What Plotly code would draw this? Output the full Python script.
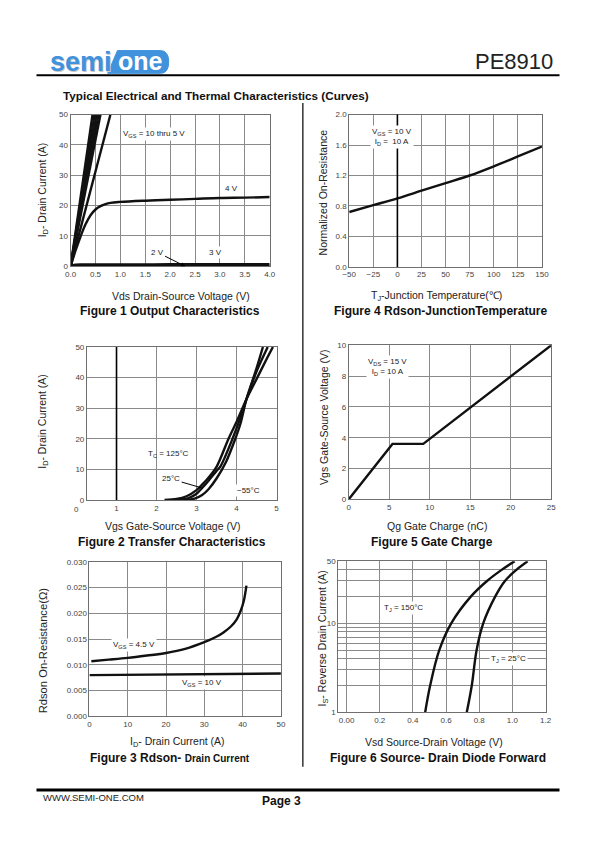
import plotly.graph_objects as go

# The page body keeps its default 8px margin, so the figure is sized to fit inside it
PAGE_W, PAGE_H = 595, 842
OFF = 8
W, H = PAGE_W - 2 * OFF, PAGE_H - 2 * OFF


def px(x):
    return (x - OFF) / W


def py(y):
    return 1 - (y - OFF) / H


# ---------------- data ----------------
# Figure 1 - Output characteristics
out_lin_labels = ["10 V", "9 V", "8 V", "7 V", "6 V", "5 V"]
out_lin_vds_end = [0.44, 0.48, 0.52, 0.56, 0.60, 0.80]
out_lin_id = [0, 50]
out_vds_4v = [0, 0.1, 0.2, 0.3, 0.4, 0.5, 0.6, 0.7, 0.8, 1.0, 1.5, 2.0, 2.5, 3.0, 3.5, 4.0]
out_id_4v = [0, 5.2, 9.8, 13.8, 16.8, 18.7, 19.8, 20.5, 20.9, 21.2, 21.6, 21.9, 22.2, 22.5, 22.6, 22.8]
out_vds_3v = [0, 0.05, 0.1, 0.2, 0.5, 1.0, 2.0, 3.0, 4.0]
out_id_3v = [0, 0.35, 0.5, 0.58, 0.6, 0.6, 0.62, 0.63, 0.65]
out_vds_2v = [0, 4.0]
out_id_2v = [0.05, 0.05]

# Figure 2 - Transfer characteristics
tr_vgs_125 = [2.2, 2.5, 2.75, 3.0, 3.14, 3.25, 3.5, 3.8, 4.0, 4.25, 4.5, 4.75, 4.91]
tr_id_125 = [0, 0.3, 1.2, 3.2, 5.0, 6.5, 10.8, 20, 25.5, 33, 39.5, 46, 50]
tr_vgs_25 = [2.5, 2.8, 3.0, 3.14, 3.3, 3.5, 3.6, 3.9, 4.1, 4.25, 4.5, 4.78]
tr_id_25 = [0, 0.6, 2.0, 3.9, 6.3, 9.5, 11, 20, 27, 33, 42, 50]
tr_vgs_m55 = [2.7, 2.95, 3.14, 3.3, 3.5, 3.74, 3.97, 4.1, 4.25, 4.5, 4.66]
tr_id_m55 = [0, 0.4, 1.6, 3.5, 7, 12.5, 20, 25, 33, 43, 50]
tr_bold_vgs = 1

# Figure 3 - Rdson vs drain current
rd_id_45 = [0.5, 5, 10, 15, 20, 25, 30, 33, 35, 37, 38.5, 39.5, 40.3, 41]
rd_r_45 = [0.0107, 0.0110, 0.01135, 0.0118, 0.0123, 0.0131, 0.0144, 0.0154, 0.0163,
           0.0175, 0.0189, 0.0205, 0.0224, 0.0254]
rd_id_10 = [0, 50]
rd_r_10 = [0.0080, 0.0083]

# Figure 4 - Normalized Rdson vs junction temperature
tj_c = [-50, -25, 0, 25, 50, 75, 100, 125, 150]
rn_norm = [0.72, 0.81, 0.90, 1.00, 1.10, 1.20, 1.32, 1.45, 1.58]
tj_bold = 0
tj_ticks = [-50, -25, 0, 25, 50, 75, 100, 125, 150]
tj_ticktext = ["\u221250", "\u221225", "0", "25", "50", "75", "100", "125", "150"]

# Figure 5 - Gate charge
qg_nc = [0, 5.4, 9.2, 25]
qg_vgs = [0, 3.6, 3.6, 10]

# Figure 6 - Source-drain diode forward
sd_is = [1, 2, 5, 10, 20, 30, 40, 50]
sd_vsd_150 = [0.474, 0.504, 0.559, 0.631, 0.749, 0.847, 0.935, 1.014]
sd_vsd_25 = [0.725, 0.755, 0.784, 0.824, 0.896, 0.955, 1.024, 1.092]
sd_yticks = [1, 10, 50]
sd_ytext = ["1", "10", "50"]
sd_yminor = [2, 3, 4, 5, 6, 7, 8, 9, 20, 30, 40]
sd_xticks = [0, 0.2, 0.4, 0.6, 0.8, 1.0, 1.2]
sd_xtext = ["0.00", "0.2", "0.4", "0.6", "0.8", "1.0", "1.2"]

# ---------------- styling ----------------
FONT = "Liberation Sans, Arial, sans-serif"
CURVE = dict(color="#111111", width=2.4)
GRID = "#8a8a8a"
TICKFONT = dict(family=FONT, size=8, color="#444444")

fig = go.Figure()

# Fig 1
for lab, v_end in zip(out_lin_labels, out_lin_vds_end):
    fig.add_trace(go.Scatter(x=[0, v_end], y=out_lin_id, mode="lines", line=CURVE,
                             xaxis="x", yaxis="y", name="VGS " + lab))
fig.add_trace(go.Scatter(x=out_vds_4v, y=out_id_4v, mode="lines", line=dict(CURVE, shape="spline"),
                         xaxis="x", yaxis="y", name="4 V"))
fig.add_trace(go.Scatter(x=out_vds_3v, y=out_id_3v, mode="lines", line=dict(CURVE, shape="spline"),
                         xaxis="x", yaxis="y", name="3 V"))
fig.add_trace(go.Scatter(x=out_vds_2v, y=out_id_2v, mode="lines", line=CURVE,
                         xaxis="x", yaxis="y", name="2 V"))

# Fig 4
fig.add_trace(go.Scatter(x=tj_c, y=rn_norm, mode="lines", line=dict(CURVE, shape="spline"),
                         xaxis="x2", yaxis="y2", name="Rn"))

# Fig 2
for xs, ys, nm in [(tr_vgs_125, tr_id_125, "125"), (tr_vgs_25, tr_id_25, "25"), (tr_vgs_m55, tr_id_m55, "-55")]:
    fig.add_trace(go.Scatter(x=xs, y=ys, mode="lines", line=dict(CURVE, shape="spline", smoothing=0.8),
                             xaxis="x3", yaxis="y3", name=nm))

# Fig 5
fig.add_trace(go.Scatter(x=qg_nc, y=qg_vgs, mode="lines", line=CURVE, xaxis="x4", yaxis="y4", name="Qg"))

# Fig 3
fig.add_trace(go.Scatter(x=rd_id_45, y=rd_r_45, mode="lines", line=dict(CURVE, shape="spline"),
                         xaxis="x5", yaxis="y5", name="4.5V"))
fig.add_trace(go.Scatter(x=rd_id_10, y=rd_r_10, mode="lines", line=CURVE, xaxis="x5", yaxis="y5", name="10V"))

# Fig 6
fig.add_trace(go.Scatter(x=sd_vsd_150, y=sd_is, mode="lines", line=dict(CURVE, shape="spline"),
                         xaxis="x6", yaxis="y6", name="150"))
fig.add_trace(go.Scatter(x=sd_vsd_25, y=sd_is, mode="lines", line=dict(CURVE, shape="spline"),
                         xaxis="x6", yaxis="y6", name="25"))


def axis(dom, rng, **kw):
    d = dict(domain=dom, range=rng, showline=True, mirror=True, linecolor="#6f6f6f", linewidth=1,
             showgrid=True, gridcolor=GRID, gridwidth=1, zeroline=False, ticks="",
             tickfont=TICKFONT, fixedrange=True)
    d.update(kw)
    return d


def xd(a, b):
    return [px(a), px(b)]


def yd(top, bottom):
    return [py(bottom), py(top)]


layout_axes = dict(
    xaxis=axis(xd(65, 269), [0, 4], dtick=0.5, tick0=0, tickformat=".1f", anchor="y"),
    yaxis=axis(yd(111.7, 265), [0, 50], dtick=10, anchor="x"),
    xaxis2=axis(xd(350.5, 548), [-50, 150], tickvals=tj_ticks, ticktext=tj_ticktext, anchor="y2"),
    yaxis2=axis(yd(111.7, 265.7), [0, 2.0], dtick=0.4, tickformat=".1f", anchor="x2"),
    xaxis3=axis(xd(81.7, 276), [0.26, 5], tickvals=[1, 2, 3, 4, 5], anchor="y3"),
    yaxis3=axis(yd(346.7, 501.3), [0, 50], dtick=10, anchor="x3"),
    xaxis4=axis(xd(350, 557.5), [0, 25], dtick=5, anchor="y4"),
    yaxis4=axis(yd(345, 500.7), [0, 10], dtick=2, anchor="x4"),
    xaxis5=axis(xd(84.3, 280.5), [0, 50], dtick=10, anchor="y5"),
    yaxis5=axis(yd(564, 720), [0, 0.030], dtick=0.005, tickformat=".3f", anchor="x5"),
    xaxis6=axis(xd(339.3, 551.7), [-0.05, 1.2], tickvals=sd_xticks, ticktext=sd_xtext, anchor="y6"),
    yaxis6=axis(yd(563.3, 716), [0, 1.69897], type="log", tickvals=sd_yticks, ticktext=sd_ytext, anchor="x6",
                minor=dict(tickvals=sd_yminor, showgrid=True, gridcolor=GRID, gridwidth=1, ticks="")),
)

shapes = []
# bold reference lines
shapes.append(dict(type="line", xref="x2", yref="y2 domain", x0=tj_bold, x1=tj_bold, y0=0, y1=1,
                   line=dict(color="#000", width=1.6), layer="above"))
shapes.append(dict(type="line", xref="x3", yref="y3 domain", x0=tr_bold_vgs, x1=tr_bold_vgs, y0=0, y1=1,
                   line=dict(color="#000", width=1.6), layer="above"))
# header / footer lines and column divider
shapes.append(dict(type="line", xref="paper", yref="paper", x0=px(30), x1=px(566), y0=py(72), y1=py(72),
                   line=dict(color="#000", width=2)))
shapes.append(dict(type="line", xref="paper", yref="paper", x0=px(30), x1=px(566), y0=py(794.5), y1=py(794.5),
                   line=dict(color="#000", width=3)))
shapes.append(dict(type="line", xref="paper", yref="paper", x0=px(303), x1=px(303), y0=py(100), y1=py(771),
                   line=dict(color="#000", width=1.2)))


# logo pill for "one"
def pth(points):
    s = ""
    for cmd, x, y in points:
        s += f"{cmd} {px(x):.5f},{py(y):.5f} "
    return s + "Z"


logo_path = pth([("M", 103, 70), ("L", 113, 47), ("L", 157, 47), ("Q", 165.5, 47), ("", 165.5, 58.5),
                 ("Q", 165.5, 70), ("", 157, 70)])
shapes.append(dict(type="path", xref="paper", yref="paper", path=logo_path,
                   fillcolor="#4192dc", line=dict(color="#4192dc", width=1)))

ann = []


def text(x, y, s, size=10, bold=False, color="#222", xanchor="center", angle=0, bg=None, family=FONT):
    d = dict(x=px(x), y=py(y), xref="paper", yref="paper", text=("<b>%s</b>" % s) if bold else s,
             showarrow=False, xanchor=xanchor, yanchor="middle", textangle=angle,
             font=dict(family=family, size=size, color=color))
    if bg:
        d.update(bgcolor=bg, borderpad=1)
    ann.append(d)


# header
text(43, 60, "semi", size=27, bold=True, color="#c8c8c8", xanchor="left")
text(42, 58.5, "semi", size=27, bold=True, color="#4192dc", xanchor="left")
text(137, 57.5, "one", size=25, bold=True, color="#ffffff")
text(561, 58, "PE8910", size=22, color="#222", xanchor="right")
text(55, 92, "Typical Electrical and Thermal Characteristics (Curves)", size=11.7, bold=True, xanchor="left",
     color="#111")
# footer
text(35, 802, "WWW.SEMI-ONE.COM", size=9.5, xanchor="left", color="#222")
text(281, 806, "Page 3", size=12, bold=True, color="#111")

TITLE = 10.5
CAP = 12
# Figure 1
text(178, 295, "Vds Drain-Source Voltage (V)", size=TITLE)
text(167, 310, "Figure 1 Output Characteristics", size=CAP, bold=True, color="#111")
text(37, 188, "I<sub>D</sub>- Drain Current (A)", size=TITLE, angle=-90)
text(150, 131, "V<sub>GS</sub> = 10 thru 5 V", size=8, bg="white")
text(230, 186, "4 V", size=8)
text(213, 251, "3 V", size=8, bg="white")
ann.append(dict(x=2.3, y=0, xref="x", yref="y", text="2 V", showarrow=True, arrowhead=2, arrowsize=0.8,
                arrowwidth=1, arrowcolor="#000", ax=-28, ay=-14, font=dict(family=FONT, size=8, color="#222")))

# Figure 4
text(440, 295, "T<sub>J</sub>-Junction Temperature(\u2103)", size=TITLE)
text(444, 310, "Figure 4 Rdson-JunctionTemperature", size=CAP, bold=True, color="#111")
text(324, 190, "Normalized On-Resistance", size=TITLE, angle=-90)
text(372, 134, "V<sub>GS</sub> = 10 V<br>I<sub>D</sub> =  10 A", size=8, xanchor="left", bg="white")

# Figure 2
text(169, 528, "Vgs Gate-Source Voltage (V)", size=TITLE)
text(169, 544, "Figure 2 Transfer Characteristics", size=CAP, bold=True, color="#111")
text(37, 422, "I<sub>D</sub>- Drain Current (A)", size=TITLE, angle=-90)
text(71.3, 510.5, "0", size=8, color="#444")
text(142, 455, "T<sub>C</sub> = 125\u00b0C", size=8, xanchor="left")
ann.append(dict(x=3.14, y=3.9, xref="x3", yref="y3", text="25\u00b0C", showarrow=True, arrowhead=0,
                arrowwidth=1, arrowcolor="#000", ax=-31, ay=-9, bgcolor="white",
                font=dict(family=FONT, size=8, color="#222")))
text(233, 492, "\u221255\u00b0C", size=8, xanchor="left", bg="white")

# Figure 5
text(440, 528, "Qg Gate Charge (nC)", size=TITLE)
text(435, 544, "Figure 5 Gate Charge", size=CAP, bold=True, color="#111")
text(324, 418, "Vgs Gate-Source Voltage (V)", size=TITLE, angle=-90)
text(368, 367, "V<sub>DS</sub> = 15 V<br>I<sub>D</sub> = 10 A", size=8, xanchor="left", bg="white")

# Figure 3
text(175, 746, "I<sub>D</sub>- Drain Current (A)", size=TITLE)
text(167, 762, "Figure 3 Rdson- <span style='font-size:10px'>Drain Current</span>", size=CAP, bold=True,
     color="#111")
text(37, 653, "Rdson On-Resistance(\u03a9)", size=11.2, angle=-90)
text(130, 648, "V<sub>GS</sub> = 4.5 V", size=8, bg="white")
text(200, 686, "V<sub>GS</sub> = 10 V", size=8, bg="white")

# Figure 6
text(437, 746, "Vsd Source-Drain Voltage (V)", size=TITLE)
text(441, 762, "Figure 6 Source- Drain Diode Forward", size=CAP, bold=True, color="#111")
text(324, 641, "I<sub>S</sub>- Reverse Drain Current (A)", size=TITLE, angle=-90)
text(406, 611, "T<sub>J</sub> = 150\u00b0C", size=8, bg="white")
text(514, 662, "T<sub>J</sub> = 25\u00b0C", size=8, bg="white")

fig.update_layout(width=W, height=H, margin=dict(l=0, r=0, t=0, b=0), paper_bgcolor="white",
                  plot_bgcolor="white", showlegend=False, shapes=shapes, annotations=ann,
                  font=dict(family=FONT), **layout_axes)

fig.write_html("out.html", config={"displayModeBar": False, "staticPlot": True})
